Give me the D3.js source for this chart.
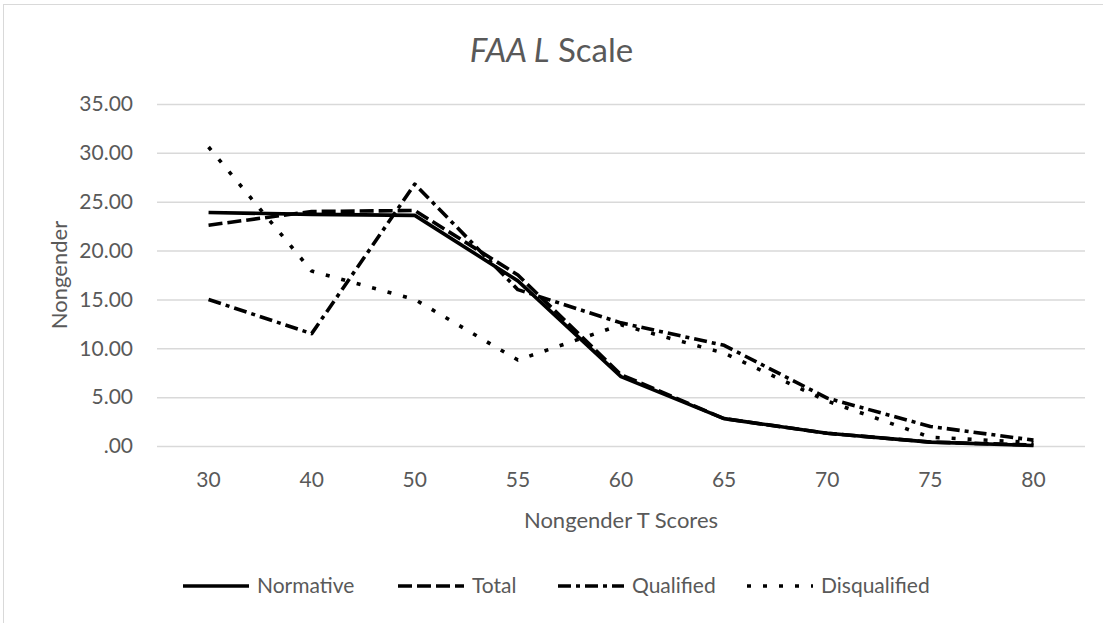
<!DOCTYPE html>
<html>
<head>
<meta charset="utf-8">
<script src="https://cdn.jsdelivr.net/npm/d3@7"></script>
<style>
  html, body { margin: 0; padding: 0; background: #fff; }
  svg { display: block; }
  text { font-family: Lato, "Open Sans", sans-serif; fill: #595959; }
</style>
</head>
<body>
<svg id="chart" width="1103" height="623"></svg>
<script>
const categories = ["30", "40", "50", "55", "60", "65", "70", "75", "80"];
const normative    = [23.9, 23.7, 23.6, 16.9, 7.1, 2.8, 1.3, 0.4, 0.05];
const total        = [22.6, 24.0, 24.1, 17.5, 7.3, 2.8, 1.3, 0.4, 0.1];
const qualified    = [15.0, 11.5, 26.8, 16.0, 12.6, 10.3, 4.9, 2.0, 0.6];
const disqualified = [30.6, 17.9, 15.0, 8.8, 12.4, 9.5, 4.6, 0.9, 0.35];
const yTicks = [0, 5, 10, 15, 20, 25, 30, 35];
const seriesNames = ["Normative", "Total", "Qualified", "Disqualified"];

const series = [
  { name: seriesNames[0], values: normative,    dash: null },
  { name: seriesNames[1], values: total,        dash: "14,5" },
  { name: seriesNames[2], values: qualified,    dash: "13,5,4,5" },
  { name: seriesNames[3], values: disqualified, dash: "4,12" }
];

const svg = d3.select("#chart");
const W = 1103, H = 623;
const plot = { left: 157, right: 1085, top: 104, bottom: 446 };

// chart border
svg.append("rect")
  .attr("x", 3.5).attr("y", 4.5)
  .attr("width", W + 20).attr("height", H + 20)
  .attr("fill", "none").attr("stroke", "#d9d9d9").attr("stroke-width", 1);

const x = d3.scaleBand().domain(categories).range([plot.left, plot.right]).padding(0);
const y = d3.scaleLinear().domain([0, 35]).range([plot.bottom, plot.top]);

// gridlines
const yAxis = d3.axisLeft(y).tickValues(yTicks)
  .tickSize(-(plot.right - plot.left))
  .tickPadding(24)
  .tickFormat(d => d === 0 ? ".00" : d3.format(".2f")(d));
const gy = svg.append("g").attr("transform", `translate(${plot.left},0)`).call(yAxis);
gy.select(".domain").remove();
gy.selectAll(".tick line").attr("stroke", "#d9d9d9").attr("stroke-width", 1.5);
gy.selectAll(".tick text").attr("font-size", 21).attr("fill", "#595959")
  .style("font-family", "Lato, sans-serif");

// x axis
const xAxis = d3.axisBottom(x).tickSize(0).tickPadding(26);
const gx = svg.append("g").attr("transform", `translate(0,${plot.bottom})`).call(xAxis);
gx.select(".domain").remove();
gx.selectAll(".tick text").attr("font-size", 21).attr("fill", "#595959")
  .style("font-family", "Lato, sans-serif");

// lines
const line = d3.line()
  .x((d, i) => x(categories[i]) + x.bandwidth() / 2)
  .y(d => y(d));

series.forEach(s => {
  svg.append("path")
    .datum(s.values)
    .attr("d", line)
    .attr("fill", "none")
    .attr("stroke", "#000")
    .attr("stroke-width", 3.6)
    .attr("stroke-linejoin", "round")
    .attr("stroke-dasharray", s.dash);
});

// title
const title = svg.append("text")
  .attr("x", W / 2)
  .attr("y", 62)
  .attr("text-anchor", "middle")
  .attr("font-size", 33);
title.append("tspan").attr("font-style", "italic").text("FAA L");
title.append("tspan").text(" Scale");

// axis titles
svg.append("text")
  .attr("x", (plot.left + plot.right) / 2)
  .attr("y", 528)
  .attr("text-anchor", "middle")
  .attr("font-size", 22)
  .text("Nongender T Scores");

svg.append("text")
  .attr("transform", `translate(67,${(plot.top + plot.bottom) / 2}) rotate(-90)`)
  .attr("text-anchor", "middle")
  .attr("font-size", 22)
  .text("Nongender");

// legend
const legendX = [183, 398, 558, 747];
const leg = svg.append("g");
series.forEach((s, i) => {
  const g = leg.append("g").attr("transform", `translate(${legendX[i]},586)`);
  g.append("line")
    .attr("x1", 0).attr("x2", 66).attr("y1", 0).attr("y2", 0)
    .attr("stroke", "#000").attr("stroke-width", 3.6)
    .attr("stroke-dasharray", s.dash);
  g.append("text")
    .attr("x", 74).attr("y", 0)
    .attr("dy", "0.35em")
    .attr("font-size", 21)
    .text(s.name);
});
</script>
</body>
</html>
